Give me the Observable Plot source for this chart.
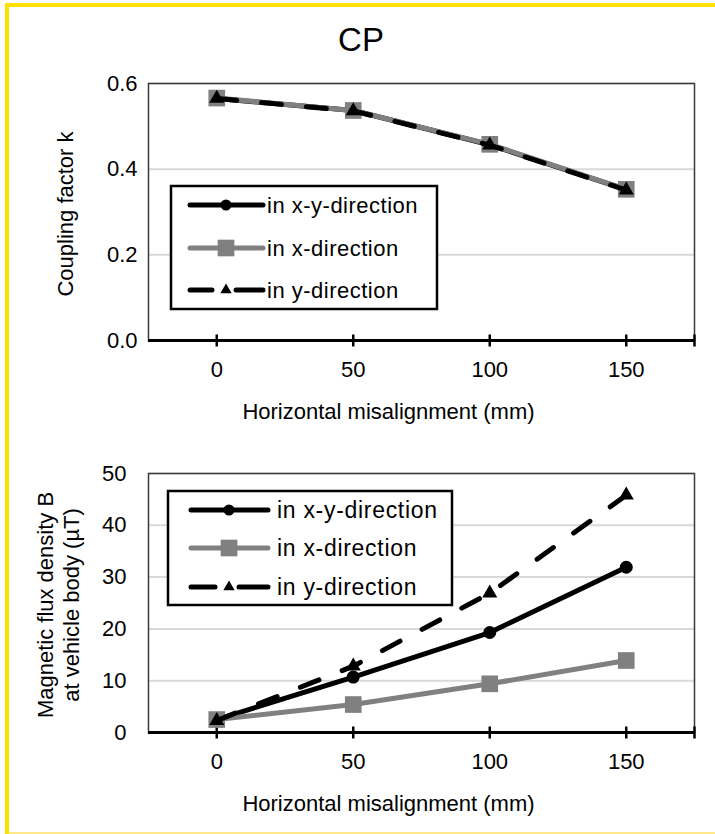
<!DOCTYPE html>
<html><head><meta charset="utf-8">
<script src="https://cdn.jsdelivr.net/npm/d3@7"></script>
<script src="https://cdn.jsdelivr.net/npm/@observablehq/plot@0.6"></script>
<style>
body{margin:0;background:#fff;font-family:Arial,"Liberation Sans",sans-serif;}
#page{position:relative;width:715px;height:834px;overflow:hidden;background:#fff;}
.abs{position:absolute;}
</style></head><body><div id="page"></div>
<script>
// ---- data ----
const misalignment = [0, 50, 100, 150];
const seriesNames = ["in x-y-direction", "in x-direction", "in y-direction"];
const couplingXY = [0.565, 0.537, 0.457, 0.352];
const couplingX  = [0.566, 0.537, 0.458, 0.353];
const couplingY  = [0.565, 0.536, 0.456, 0.351];
const fluxXY = [2.5, 10.7, 19.3, 31.9];
const fluxX  = [2.5, 5.4, 9.4, 13.9];
const fluxY  = [2.3, 12.8, 26.9, 45.8];
const xTicks = [0, 50, 100, 150];
const xDomain = [-25, 175];
const couplingTicks = [0, 0.2, 0.4, 0.6];
const fluxTicks = [0, 10, 20, 30, 40, 50];
const title = "CP";
const xLabel = "Horizontal misalignment (mm)";
const couplingLabel = "Coupling factor k";
const fluxLabel = ["Magnetic flux density B", "at vehicle body (µT)"];

// ---- styles ----
const FONT = 'Arial, "Liberation Sans", sans-serif';
const GRAY = "#808080";
const seriesStyle = [
  {stroke: "#000", dash: null, symbol: "circle", r: 6.5, fill: "#000"},
  {stroke: GRAY, dash: null, symbol: "square", r: 9.4, fill: GRAY},
  {stroke: "#000", dash: "20,25", symbol: "triangle", r: 5.6, fill: "#000"}
];
const tickSymbol = {draw(ctx) { ctx.moveTo(0, -6); ctx.lineTo(0, 6); }};

const page = document.getElementById("page");

function addDiv(css, text) {
  const d = document.createElement("div");
  d.className = "abs";
  Object.assign(d.style, css);
  if (text != null) d.textContent = text;
  page.appendChild(d);
  return d;
}

// yellow frame
addDiv({left: "5px", top: "3px", width: "4px", height: "831px", background: "#FFE000"});
addDiv({left: "5px", top: "3px", width: "710px", height: "4px", background: "#FFE000"});
addDiv({left: "9px", top: "832px", width: "706px", height: "2px", background: "#FFE88A"});

// title
addDiv({left: "0px", top: "18px", width: "722px", textAlign: "center", fontSize: "33px", lineHeight: "44px", fontFamily: FONT}, title);

function makeChart({top, height, marginTop, marginBottom, yMax, yTicks, yFormat, yPad, series, yLabel, yLabelDx}) {
  const rows = [];
  series.forEach((vals, s) => vals.forEach((v, i) => rows.push({x: misalignment[i], v, s})));
  const marks = [
    Plot.ruleY(yTicks.filter(d => d > 0), {stroke: "#d9d9d9", strokeWidth: 2}),
    Plot.frame({stroke: "#3a3a3a", strokeWidth: 1.5}),
    Plot.axisY({ticks: yTicks, tickSize: 0, tickPadding: yPad, tickFormat: yFormat, label: null, fontSize: 22}),
    Plot.axisX({ticks: xTicks, tickSize: 0, tickPadding: 21, label: null, fontSize: 22}),
    Plot.ruleY([0], {stroke: "#000", strokeWidth: 3}),
    Plot.dot([...xTicks, xDomain[1]], {x: d => d, y: () => 0, symbol: tickSymbol, stroke: "#000", strokeWidth: 2.5, fill: "none"})
  ];
  series.forEach((vals, s) => {
    const st = seriesStyle[s];
    const data = rows.filter(d => d.s === s);
    marks.push(Plot.line(data, {x: "x", y: "v", stroke: st.stroke, strokeWidth: 5,
      strokeDasharray: st.dash, strokeLinecap: "round", strokeLinejoin: "round"}));
    marks.push(Plot.dot(data, {x: "x", y: "v", symbol: st.symbol, r: st.r, fill: st.fill, stroke: "none"}));
  });
  marks.push(Plot.text([xLabel], {text: d => d, frameAnchor: "bottom", dx: -33, dy: 71, fontSize: 22,
    lineAnchor: "middle", textAnchor: "middle", letterSpacing: "0.3px"}));
  marks.push(Plot.text([yLabel], {text: d => d, frameAnchor: "left", rotate: -90, dx: yLabelDx, dy: 2, fontSize: 22,
    lineAnchor: "middle", textAnchor: "middle", lineHeight: 1.18}));
  const svg = Plot.plot({
    width: 715, height, marginLeft: 148, marginRight: 21, marginTop, marginBottom,
    x: {domain: xDomain},
    y: {domain: [0, yMax]},
    style: {fontFamily: FONT, fontSize: "22px", color: "#000", background: "transparent", overflow: "visible"},
    marks
  });
  svg.style.position = "absolute";
  svg.style.left = "0px";
  svg.style.top = top + "px";
  page.appendChild(svg);
}

makeChart({top: 60, height: 380, marginTop: 23, marginBottom: 100, yMax: 0.6, yTicks: couplingTicks,
  yFormat: d3.format(".1f"), yPad: 11, series: [couplingXY, couplingX, couplingY],
  yLabel: couplingLabel, yLabelDx: -84});
makeChart({top: 440, height: 394, marginTop: 33, marginBottom: 102, yMax: 50, yTicks: fluxTicks,
  yFormat: d3.format("d"), yPad: 22, series: [fluxXY, fluxX, fluxY],
  yLabel: fluxLabel.join("\n"), yLabelDx: -91});

// legends
function makeLegend({left, top, width, height, rowY, x1, x2, textX, fontSize, spacing}) {
  const svg = d3.create("svg").attr("width", width).attr("height", height)
    .style("position", "absolute").style("left", left + "px").style("top", top + "px")
    .style("overflow", "visible");
  svg.append("rect").attr("x", 1).attr("y", 1).attr("width", width - 2).attr("height", height - 2)
    .attr("fill", "#fff").attr("stroke", "#000").attr("stroke-width", 2.5);
  const xm = (x1 + x2) / 2;
  seriesNames.forEach((name, s) => {
    const st = seriesStyle[s];
    const y = rowY[s];
    const g = svg.append("g");
    if (st.dash) {
      g.append("line").attr("x1", x1 + 3).attr("x2", xm - 14).attr("y1", y).attr("y2", y)
        .attr("stroke", st.stroke).attr("stroke-width", 5).attr("stroke-linecap", "round");
      g.append("line").attr("x1", xm + 10).attr("x2", x2 - 2).attr("y1", y).attr("y2", y)
        .attr("stroke", st.stroke).attr("stroke-width", 5).attr("stroke-linecap", "round");
    } else {
      g.append("line").attr("x1", x1 + 3).attr("x2", x2 - 2).attr("y1", y).attr("y2", y)
        .attr("stroke", st.stroke).attr("stroke-width", 5).attr("stroke-linecap", "round");
    }
    const sym = {circle: d3.symbolCircle, square: d3.symbolSquare, triangle: d3.symbolTriangle}[st.symbol];
    const size = st.symbol === "triangle" ? Math.PI * 4.2 * 4.2 : Math.PI * st.r * st.r;
    g.append("path").attr("d", d3.symbol(sym, st.symbol === "circle" ? Math.PI * 5.5 * 5.5 : size)())
      .attr("transform", `translate(${xm},${y})`).attr("fill", st.fill);
    g.append("text").attr("x", textX).attr("y", y).attr("dy", "0.35em")
      .attr("font-family", FONT).attr("font-size", fontSize).attr("letter-spacing", spacing).text(name);
  });
  page.appendChild(svg.node());
}
makeLegend({left: 170, top: 185, width: 268, height: 125, rowY: [20, 63, 105], x1: 17, x2: 95, textX: 97, fontSize: 22, spacing: "0.5px"});
makeLegend({left: 167, top: 490, width: 286, height: 116, rowY: [20, 58, 97], x1: 21, x2: 103, textX: 110, fontSize: 23, spacing: "0.7px"});
</script></body></html>
